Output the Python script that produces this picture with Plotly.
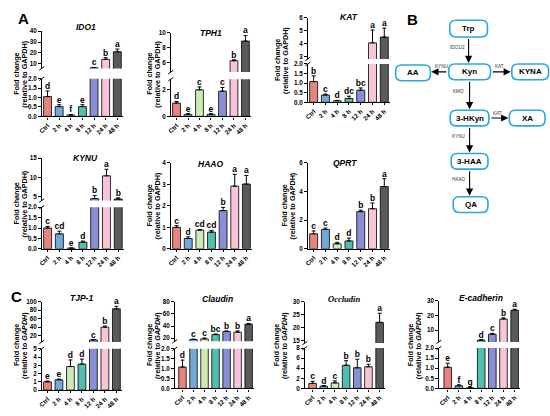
import plotly.graph_objects as go

W, H = 550, 416

# ---------------- data ----------------
categories = ["Ctrl", "2 h", "4 h", "8 h", "12 h", "24 h", "48 h"]
bar_colors = ["#E8847F", "#72A8DA", "#CDEBB4", "#50BFAE", "#8A8ED6", "#F8C4D9", "#5A5A5A"]

ido1_mean = [1.05, 0.52, 0.07, 0.52, 6.2, 14.0, 21.0]
ido1_err = [0.3, 0.1, 0.03, 0.1, 0.3, 1.5, 2.5]
ido1_sig = ["d", "e", "f", "e", "c", "b", "a"]

tph1_mean = [1.0, 0.15, 2.0, 0.15, 1.9, 6.3, 8.9]
tph1_err = [0.12, 0.05, 0.22, 0.05, 0.28, 0.12, 0.75]
tph1_sig = ["d", "e", "c", "e", "c", "b", "a"]

kat_mean = [1.08, 0.38, 0.08, 0.2, 0.63, 4.05, 4.5]
kat_err = [0.3, 0.05, 0.02, 0.12, 0.12, 1.0, 0.7]
kat_sig = ["b", "c", "d", "dc", "bc", "a", "a"]

kynu_mean = [1.0, 0.72, 0.03, 0.32, 4.5, 10.4, 4.4]
kynu_err = [0.08, 0.13, 0.01, 0.05, 0.8, 1.7, 0.3]
kynu_sig = ["c", "cd", "e", "d", "b", "a", "b"]

haao_mean = [1.0, 0.48, 0.87, 0.78, 1.78, 2.92, 3.02]
haao_err = [0.08, 0.08, 0.03, 0.08, 0.15, 0.55, 0.4]
haao_sig = ["c", "d", "cd", "cd", "b", "a", "a"]

qprt_mean = [1.05, 1.35, 0.35, 0.55, 2.6, 2.8, 4.35]
qprt_err = [0.2, 0.1, 0.1, 0.2, 0.1, 0.4, 0.55]
qprt_sig = ["c", "c", "d", "d", "b", "b", "a"]

tjp1_mean = [1.0, 1.25, 2.85, 3.15, 10.0, 40.0, 83.0]
tjp1_err = [0.1, 0.08, 0.8, 0.6, 0.5, 2.5, 6.0]
tjp1_sig = ["e", "e", "d", "d", "c", "b", "a"]

claudin_mean = [1.08, 18.0, 19.0, 26.0, 31.0, 30.0, 43.0]
claudin_err = [0.35, 0.6, 1.5, 1.0, 1.0, 2.0, 1.0]
claudin_sig = ["d", "c", "c", "bc", "b", "b", "a"]

occludin_mean = [1.0, 0.45, 1.1, 4.6, 4.1, 4.3, 22.0]
occludin_err = [0.4, 0.1, 0.4, 0.9, 1.7, 0.5, 3.5]
occludin_sig = ["c", "d", "c", "b", "b", "b", "a"]

ecad_mean = [1.05, 0.13, 0.03, 3.2, 7.2, 17.5, 23.5]
ecad_err = [0.2, 0.05, 0.01, 0.3, 0.6, 0.8, 0.7]
ecad_sig = ["e", "f", "g", "d", "c", "b", "a"]

# pathway diagram
nodes = ["Trp", "Kyn", "AA", "KYNA", "3-HKyn", "XA", "3-HAA", "QA"]
edges = [("Trp", "Kyn", "IDO1/2"), ("Kyn", "AA", "KYNU"), ("Kyn", "KYNA", "KAT"),
         ("Kyn", "3-HKyn", "KMO"), ("3-HKyn", "XA", "KAT"), ("3-HKyn", "3-HAA", "KYNU"),
         ("3-HAA", "QA", "HAAO")]

# ---------------- layout (pixel geometry) ----------------
YT_A = ("Fold change", "(relative to GAPDH)")
YT_C = ("Fold change", "(relative to <i>GAPDH</i>)")
panels = [
    dict(title="IDO1", m=ido1_mean, e=ido1_err, s=ido1_sig, xpx=(38, 120), xr=(-0.5, 6.5),
         segs=[((0, 2), (76, 114.3), [0, 0.5, 1, 1.5, 2], ".1f"), ((5.5, 40), (27.7, 65.6), [10, 20, 30, 40], "")],
         tpos=(83, 23), ypos=(17, 71), yt=YT_A),
    dict(title="TPH1", m=tph1_mean, e=tph1_err, s=tph1_sig, xpx=(168, 249), xr=(-0.5, 6.5),
         segs=[((0, 2.8), (76.5, 114.3), [0, 2], ""), ((4.8, 10), (29.3, 69.2), [6, 8, 10], "")],
         tpos=(209, 29), ypos=(151, 71), yt=YT_A),
    dict(title="KAT", m=kat_mean, e=kat_err, s=kat_sig, xpx=(306, 389), xr=(-0.5, 6.5),
         segs=[((0, 2), (61, 100), [0, 0.5, 1, 1.5, 2], ".1f"), ((2.8, 6), (14, 55.9), [3, 4, 5, 6], "")],
         tpos=(348, 13), ypos=(279, 57), yt=YT_A),
    dict(title="KYNU", m=kynu_mean, e=kynu_err, s=kynu_sig, xpx=(38, 121), xr=(-0.5, 6.5),
         segs=[((0, 2), (206.7, 249), [0, 0.5, 1, 1.5, 2], ".1f"), ((4, 15), (156.7, 199.9), [5, 10, 15], "")],
         tpos=(82, 157), ypos=(17, 203), yt=YT_A),
    dict(title="HAAO", m=haao_mean, e=haao_err, s=haao_sig, xpx=(168, 250), xr=(-0.5, 6.5),
         segs=[((0, 4), (161.7, 249), [0, 1, 2, 3, 4], "")],
         tpos=(208, 163), ypos=(151, 205), yt=YT_A),
    dict(title="QPRT", m=qprt_mean, e=qprt_err, s=qprt_sig, xpx=(306, 389), xr=(-0.5, 6.5),
         segs=[((0, 6), (161.7, 249), [0, 2, 4, 6], "")],
         tpos=(343, 162), ypos=(287, 205), yt=YT_A),
    dict(title="TJP-1", m=tjp1_mean, e=tjp1_err, s=tjp1_sig, xpx=(38, 119), xr=(-0.5, 6.5),
         segs=[((0, 5), (350.7, 392.7), [0, 1, 2, 3, 4, 5], ""), ((5, 100), (302.7, 343.8), [20, 40, 60, 80, 100], "")],
         tpos=(78, 299), ypos=(16, 347), yt=YT_C),
    dict(title="Claudin", m=claudin_mean, e=claudin_err, s=claudin_sig, xpx=(172, 252), xr=(-0.7, 6.5),
         segs=[((0, 2), (350.7, 391), [0, 0.5, 1, 1.5, 2], ".1f"), ((15, 80), (302.7, 343.1), [20, 40, 60, 80], "")],
         tpos=(215, 300), ypos=(150, 347), yt=YT_C),
    dict(title="Occludin", m=occludin_mean, e=occludin_err, s=occludin_sig, xpx=(303, 384), xr=(-0.7, 6.5),
         segs=[((0, 8), (350, 391), [0, 2, 4, 6, 8], ""), ((14, 30), (302.7, 344.9), [15, 20, 25, 30], "")],
         tpos=(342, 300), ypos=(278, 347), yt=YT_C, serif=True),
    dict(title="E-cadherin", m=ecad_mean, e=ecad_err, s=ecad_sig, xpx=(438, 520), xr=(-0.8, 6.5),
         segs=[((0, 2), (350, 391), [0, 0.5, 1, 1.5, 2], ".1f"), ((2, 30), (301.7, 343.7), [10, 20, 30], "")],
         tpos=(480, 299), ypos=(413, 347), yt=YT_C),
]

node_geom = {"Trp": (468, 25, 38, 17), "Kyn": (469, 69, 42, 16), "AA": (412, 70, 35, 16),
             "KYNA": (530, 69, 37, 16), "3-HKyn": (469, 116, 39, 16), "XA": (527, 116, 36, 16),
             "3-HAA": (469, 160, 37, 16), "QA": (470, 204, 35, 16)}

SANS = "Arial, Liberation Sans, sans-serif"
SERIF = "Times New Roman, Liberation Serif, serif"


def px(x):
    return x / W


def py(y):
    return 1 - y / H


def note(x, y, text, size, family=SANS, color="black", angle=0):
    return dict(x=px(x), y=py(y), xref="paper", yref="paper", text=text, showarrow=False,
                xanchor="center", yanchor="middle", textangle=angle,
                font=dict(family=family, size=size, color=color))


fig = go.Figure()
layout = dict(width=W, height=H, margin=dict(l=0, r=0, t=0, b=0), paper_bgcolor="white",
              plot_bgcolor="rgba(0,0,0,0)", showlegend=False, bargap=0.3)
annotations = []
shapes = []
n = 0
for p in panels:
    for si, (yr, (ytop, ybot), ticks, fmt) in enumerate(p["segs"]):
        n += 1
        xa = "xaxis" if n == 1 else f"xaxis{n}"
        ya = "yaxis" if n == 1 else f"yaxis{n}"
        xr_ = "x" if n == 1 else f"x{n}"
        yr_ = "y" if n == 1 else f"y{n}"
        if si == 0:
            layout[xa] = dict(domain=[px(p["xpx"][0]), px(p["xpx"][1])], range=list(p["xr"]), anchor=yr_,
                              showline=True, linecolor="black", linewidth=1.3, ticks="outside", ticklen=2,
                              tickwidth=1, tickcolor="black", tickvals=list(range(len(categories))),
                              ticktext=categories, tickangle=-45, showgrid=False, zeroline=False,
                              tickfont=dict(family=SANS, size=6.3, color="black", weight="bold"))
        else:
            layout[xa] = dict(domain=[px(p["xpx"][0]), px(p["xpx"][1])], range=list(p["xr"]), anchor=yr_,
                              visible=False)
        layout[ya] = dict(domain=[py(ybot), py(ytop)], range=list(yr), anchor=xr_, showline=True,
                          linecolor="black", linewidth=1.3, ticks="outside", ticklen=2.5, tickwidth=1,
                          tickcolor="black", tickvals=ticks, tickformat=fmt, showgrid=False, zeroline=False,
                          tickfont=dict(family=SANS, size=6.3, color="black", weight="bold"))
        idx = list(range(len(categories)))
        fig.add_trace(go.Bar(x=idx, y=p["m"], xaxis=xr_, yaxis=yr_, width=0.68,
                             marker=dict(color=bar_colors, line=dict(color="black", width=0.8)),
                             error_y=dict(type="data", symmetric=False, array=p["e"],
                                          arrayminus=[0] * len(p["e"]), color="black", thickness=1, width=2),
                             hoverinfo="skip"))
        # significance letters in the segment where the bar top lies
        nseg = len(p["segs"])
        lx, ly, lt = [], [], []
        for i, (v, e, s) in enumerate(zip(p["m"], p["e"], p["s"])):
            top = v + e
            if nseg == 1:
                ok = True
            elif si == 0:
                ok = top <= yr[1]
            else:
                ok = top > p["segs"][0][0][1]
            if ok:
                lx.append(i)
                ly.append(top)
                lt.append(s)
        fig.add_trace(go.Scatter(x=lx, y=ly, text=lt, mode="text", textposition="top center",
                                 xaxis=xr_, yaxis=yr_, cliponaxis=False, hoverinfo="skip",
                                 textfont=dict(family=SANS, size=8.5, color="black", weight="bold")))
    # break marks
    if len(p["segs"]) == 2:
        ax = p["xpx"][0]
        for yy in (p["segs"][0][1][0], p["segs"][1][1][1]):
            shapes.append(dict(type="line", xref="paper", yref="paper", x0=px(ax - 2.5), y0=py(yy + 1.8),
                               x1=px(ax + 2.5), y1=py(yy - 1.8), line=dict(color="black", width=1)))
    # titles
    fam = SERIF if p.get("serif") else SANS
    annotations.append(note(p["tpos"][0], p["tpos"][1], f"<b><i>{p['title']}</i></b>", 8.5, fam))
    annotations.append(note(p["ypos"][0] - 4, p["ypos"][1], f"<b>{p['yt'][0]}</b>", 7.2, angle=-90))
    annotations.append(note(p["ypos"][0] + 4, p["ypos"][1], f"<b>{p['yt'][1]}</b>", 7.2, angle=-90))

# panel letters
for lab, (lx_, ly_) in {"A": (20, 15), "B": (411, 16), "C": (13, 298)}.items():
    annotations.append(note(lx_, ly_, f"<b>{lab}</b>", 15))


# pathway diagram
def rrect(cx, cy, w, h, r):
    x0, x1, y0, y1 = cx - w / 2, cx + w / 2, cy - h / 2, cy + h / 2
    pts = [("M", [(x0 + r, y0)]), ("L", [(x1 - r, y0)]), ("Q", [(x1, y0), (x1, y0 + r)]),
           ("L", [(x1, y1 - r)]), ("Q", [(x1, y1), (x1 - r, y1)]), ("L", [(x0 + r, y1)]),
           ("Q", [(x0, y1), (x0, y1 - r)]), ("L", [(x0, y0 + r)]), ("Q", [(x0, y0), (x0 + r, y0)])]
    s = ""
    for cmd, ps in pts:
        s += cmd + " " + " ".join(f"{px(a):.5f},{py(b):.5f}" for a, b in ps) + " "
    return s + "Z"


for name in nodes:
    cx, cy, w, h = node_geom[name]
    shapes.append(dict(type="path", xref="paper", yref="paper", path=rrect(cx, cy, w, h, 6),
                       line=dict(color="#2AA7DF", width=1.6), fillcolor="white"))
    annotations.append(note(cx, cy, f"<b>{name}</b>", 8))

for a, b, lab in edges:
    ax_, ay_, aw, ah = node_geom[a]
    bx_, by_, bw, bh = node_geom[b]
    if abs(ay_ - by_) < 3:  # horizontal
        sgn = 1 if bx_ > ax_ else -1
        tx, ty = ax_ + sgn * (aw / 2 + 1), ay_
        hx, hy = bx_ - sgn * (bw / 2 + 1), ay_
        lpx, lpy = (tx + hx) / 2 - sgn * 2, ay_ - 5
    else:
        tx, ty = ax_, ay_ + ah / 2 + 1
        hx, hy = ax_, by_ - bh / 2 - 1
        lpx, lpy = ax_ - 11, (ty + hy) / 2 - 3
    annotations.append(dict(x=px(hx), y=py(hy), xref="paper", yref="paper", ax=tx - hx, ay=ty - hy,
                            axref="pixel", ayref="pixel", showarrow=True, arrowhead=2, arrowsize=1.3,
                            arrowwidth=1.1, arrowcolor="black", text="", standoff=0, startstandoff=0))
    annotations.append(note(lpx, lpy, lab, 4.6, color="#333333"))

layout["annotations"] = annotations
layout["shapes"] = shapes
fig.update_layout(**layout)
fig.write_html("out.html", config={"displayModeBar": False},
               post_script="document.body.style.margin='0';document.body.style.overflow='hidden';")
